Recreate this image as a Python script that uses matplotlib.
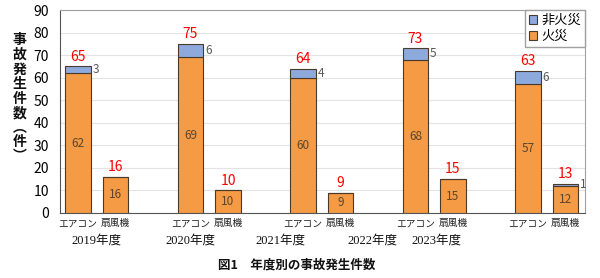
import matplotlib
matplotlib.use("Agg")
import matplotlib.pyplot as plt
import numpy as np

plt.rcParams['font.family'] = ['Noto Sans CJK JP', 'DejaVu Sans']

years = ["2019年度", "2020年度", "2021年度", "2022年度", "2023年度"]
categories = ["エアコン", "扇風機"]
ac_fire = [62, 69, 60, 68, 57]
ac_nonfire = [3, 6, 4, 5, 6]
fan_fire = [16, 10, 9, 15, 12]
fan_nonfire = [0, 0, 0, 0, 1]
yticks = [0, 10, 20, 30, 40, 50, 60, 70, 80, 90]
# positions (in data x units) where year labels appear in the reference
year_label_x = [0.5, 3.0, 5.4, 7.85, 9.55]

orange = "#F59A45"
blue = "#8EA9DB"
edge = "#4a3a2a"

fig = plt.figure(figsize=(6.0, 2.78), dpi=100)
ax = fig.add_axes([0.1, 0.234, 0.875, 0.730])

n = len(years)
x_ac = np.arange(n) * 3.0
x_fan = x_ac + 1.0
w = 0.69

for xs, fire, nonfire in [(x_ac, ac_fire, ac_nonfire), (x_fan, fan_fire, fan_nonfire)]:
    ax.bar(xs, fire, width=w, color=orange, edgecolor=edge, linewidth=0.8, zorder=3)
    ax.bar(xs, nonfire, width=w, bottom=fire, color=blue, edgecolor=edge, linewidth=0.8, zorder=3)
    for x, f, nf in zip(xs, fire, nonfire):
        ax.text(x, f / 2, str(f), ha='center', va='center', fontsize=8.5, color="#5a4630", zorder=4)
        if nf > 0:
            ax.text(x + w / 2 + 0.04, f + nf / 2, str(nf), ha='left', va='center', fontsize=8.5,
                    color="#595959", zorder=4)
        ax.text(x, f + nf + 1.2, str(f + nf), ha='center', va='bottom', fontsize=10,
                color="#FF0000", zorder=4)

ax.set_xlim(-0.48, 13.52)
ax.set_ylim(0, 90)
ax.set_yticks(yticks)
ax.set_yticklabels([str(t) for t in yticks], fontsize=10)
ax.tick_params(axis='y', length=0, pad=8)
ax.set_xticks([])
ax.grid(axis='y', color="#e3e3e3", linewidth=0.8, zorder=0)
for s in ['top', 'right']:
    ax.spines[s].set_color("#a0a0a0")
for s in ['left', 'bottom']:
    ax.spines[s].set_color("#555555")

# category labels
for xs, cat in [(x_ac, categories[0]), (x_fan, categories[1])]:
    for x in xs:
        ax.text(x, -2.4, cat, ha='center', va='top', fontsize=7, color="#222222")

# year labels
for xl, yl in zip(year_label_x, years):
    ax.text(xl, -9.8, yl, ha='center', va='top', fontsize=9,
            family=['Liberation Serif', 'Noto Sans CJK JP'], color="#111111")

# legend
from matplotlib.patches import Patch
handles = [Patch(facecolor=blue, edgecolor=edge, linewidth=0.8),
           Patch(facecolor=orange, edgecolor=edge, linewidth=0.8)]
leg = ax.legend(handles, ["非火災", "火災"], loc='upper right', fontsize=9.5,
                handlelength=0.6, handleheight=0.6, handletextpad=0.3,
                borderpad=0.3, labelspacing=0.25, borderaxespad=0.0,
                frameon=True, fancybox=False, framealpha=1, edgecolor="#a0a0a0")

# y label (vertical stacked characters)
ylabel = "事故発生件数︵件︶"
fig.text(0.032, 0.645, "\n".join(ylabel), ha='center', va='center', fontsize=10,
         fontweight='bold', linespacing=1.05, color="#111111")

fig.text(0.495, 0.045, "図1　年度別の事故発生件数", ha='center', va='center',
         fontsize=9, fontweight='bold', color="#111111")

fig.savefig("out.png", dpi=100)
